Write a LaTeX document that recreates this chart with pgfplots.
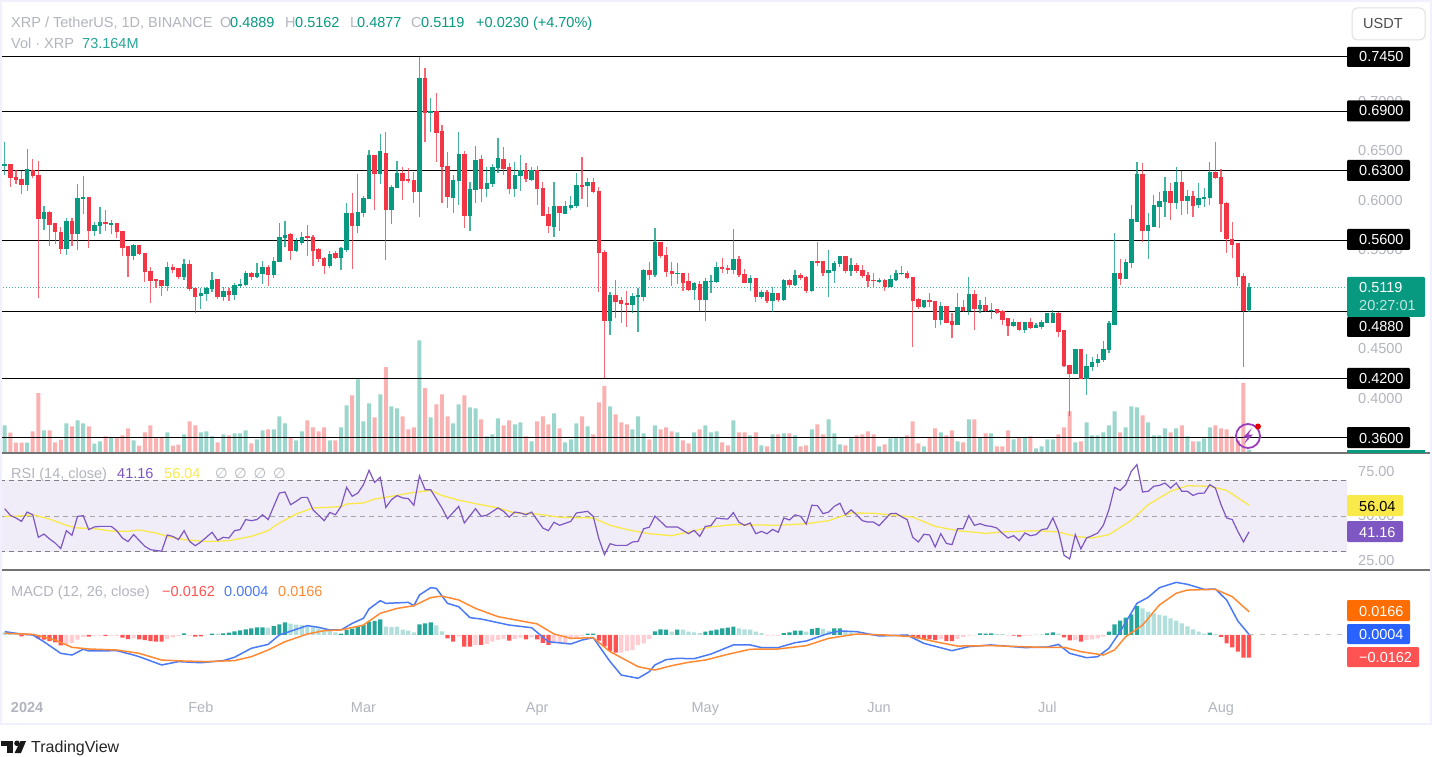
\documentclass[border=0pt]{standalone}
\usepackage{fontspec}
\usepackage{pgfplots}
\usepackage{pgfplotstable}
\pgfplotsset{compat=1.18}
\setmainfont{Liberation Sans}
\newfontfamily\dejavu{DejaVu Sans}

\definecolor{upc}{HTML}{089981}
\definecolor{dnc}{HTML}{F23645}
\definecolor{volup}{HTML}{9AD6CC}
\definecolor{voldn}{HTML}{FAB1B1}
\definecolor{greytx}{HTML}{B2B5BE}
\definecolor{band}{HTML}{F0ECF8}
\definecolor{rsic}{HTML}{7E57C2}
\definecolor{rsima}{HTML}{F9E94A}
\definecolor{macdb}{HTML}{4A7BF5}
\definecolor{macds}{HTML}{FF8A33}
\definecolor{labo}{HTML}{FF6D00}
\definecolor{labb}{HTML}{2962FF}
\definecolor{badge}{HTML}{9C3FBF}
\definecolor{hdt}{HTML}{26A69A}
\definecolor{hlt}{HTML}{B2DFDB}
\definecolor{hlr}{HTML}{FFCDD2}
\definecolor{hdr}{HTML}{FF5252}

% candles: i open high low close
\pgfplotstableread{
i o h l c
0 0.6352 0.6591 0.6258 0.6359
4 0.6157 0.6517 0.6093 0.6308
7 0.5817 0.5948 0.5702 0.5874
11 0.5510 0.5824 0.5450 0.5783
13 0.5662 0.6164 0.5500 0.6019
14 0.6016 0.6245 0.5867 0.6029
16 0.5692 0.5780 0.5642 0.5749
17 0.5746 0.5938 0.5662 0.5773
19 0.5756 0.5803 0.5662 0.5763
23 0.5440 0.5561 0.5399 0.5541
29 0.5133 0.5376 0.5089 0.5322
32 0.5231 0.5406 0.5197 0.5355
35 0.5032 0.5113 0.4904 0.5056
36 0.5052 0.5130 0.4988 0.5109
37 0.5103 0.5275 0.5079 0.5194
39 0.5029 0.5123 0.4988 0.5076
41 0.5049 0.5163 0.4995 0.5136
42 0.5136 0.5207 0.5113 0.5150
43 0.5143 0.5291 0.5136 0.5264
45 0.5231 0.5365 0.5217 0.5264
46 0.5258 0.5386 0.5153 0.5325
48 0.5244 0.5426 0.5214 0.5382
49 0.5379 0.5770 0.5379 0.5628
50 0.5621 0.5793 0.5534 0.5648
52 0.5490 0.5618 0.5477 0.5581
53 0.5571 0.5679 0.5548 0.5628
58 0.5335 0.5487 0.5318 0.5456
60 0.5419 0.5534 0.5298 0.5510
61 0.5500 0.5978 0.5483 0.5867
63 0.5746 0.6265 0.5675 0.5877
64 0.5871 0.6046 0.5837 0.6019
65 0.6012 0.6511 0.6012 0.6450
67 0.6268 0.6672 0.6164 0.6490
69 0.5908 0.6157 0.5763 0.6130
70 0.6123 0.6400 0.6123 0.6275
74 0.6083 0.7454 0.5837 0.7235
76 0.6881 0.7033 0.6692 0.6898
80 0.6028 0.6257 0.5877 0.6203
81 0.6197 0.6695 0.5954 0.6459
83 0.5846 0.6190 0.5695 0.6109
84 0.6106 0.6550 0.5978 0.6406
86 0.6112 0.6342 0.6038 0.6170
87 0.6166 0.6365 0.6140 0.6335
88 0.6328 0.6628 0.6274 0.6419
91 0.6112 0.6385 0.6038 0.6254
92 0.6247 0.6459 0.6096 0.6301
94 0.6207 0.6342 0.6200 0.6301
98 0.5732 0.6183 0.5634 0.5934
100 0.5867 0.5998 0.5860 0.5934
101 0.5927 0.6045 0.5904 0.5944
102 0.5940 0.6274 0.5921 0.6153
104 0.6143 0.6224 0.5937 0.6180
108 0.4786 0.5079 0.4641 0.5038
112 0.4947 0.5062 0.4866 0.5028
113 0.5028 0.5112 0.4674 0.5038
114 0.5028 0.5304 0.4988 0.5294
116 0.5244 0.5718 0.5223 0.5570
120 0.5254 0.5365 0.5156 0.5264
123 0.5099 0.5180 0.4994 0.5160
125 0.4994 0.5220 0.4786 0.5180
126 0.5173 0.5247 0.5068 0.5183
127 0.5173 0.5375 0.5170 0.5324
130 0.5297 0.5712 0.5257 0.5405
133 0.5166 0.5244 0.5089 0.5210
135 0.5021 0.5095 0.5004 0.5068
137 0.4984 0.5129 0.4876 0.5058
139 0.4994 0.5203 0.4988 0.5193
141 0.5146 0.5294 0.5136 0.5244
144 0.5085 0.5392 0.5079 0.5385
147 0.5267 0.5496 0.5028 0.5291
148 0.5284 0.5392 0.5169 0.5365
149 0.5358 0.5439 0.5331 0.5429
151 0.5284 0.5419 0.5240 0.5345
156 0.5173 0.5220 0.5163 0.5190
158 0.5129 0.5244 0.5122 0.5196
159 0.5193 0.5297 0.5186 0.5257
160 0.5254 0.5338 0.5247 0.5264
164 0.4927 0.4994 0.4917 0.4984
167 0.4796 0.4978 0.4738 0.4927
170 0.4745 0.5062 0.4742 0.4913
172 0.4880 0.5227 0.4843 0.5048
174 0.4903 0.4994 0.4860 0.4934
176 0.4880 0.4967 0.4799 0.4890
180 0.4732 0.4802 0.4725 0.4765
182 0.4691 0.4775 0.4658 0.4765
184 0.4715 0.4765 0.4708 0.4732
185 0.4718 0.4792 0.4701 0.4765
186 0.4765 0.4860 0.4765 0.4853
187 0.4765 0.4893 0.4765 0.4853
191 0.4243 0.4496 0.4243 0.4496
193 0.4193 0.4449 0.4034 0.4321
194 0.4317 0.4415 0.4274 0.4361
195 0.4354 0.4449 0.4314 0.4395
196 0.4385 0.4583 0.4371 0.4496
197 0.4489 0.4782 0.4462 0.4752
198 0.4745 0.5668 0.4745 0.5264
200 0.5207 0.5405 0.5203 0.5375
201 0.5368 0.5951 0.5314 0.5803
202 0.5786 0.6385 0.5786 0.6264
204 0.5695 0.5877 0.5409 0.5742
205 0.5732 0.6052 0.5729 0.5944
206 0.5937 0.6089 0.5718 0.5988
207 0.5981 0.6234 0.5830 0.6089
209 0.5971 0.6335 0.5917 0.6183
211 0.5991 0.6106 0.5863 0.6042
213 0.5951 0.6173 0.5921 0.6018
214 0.6018 0.6129 0.5931 0.6028
215 0.6022 0.6385 0.5954 0.6284
222 0.4889 0.5162 0.4877 0.5119
}\upcandles
\pgfplotstableread{
i o h l c
1 0.6359 0.6366 0.6133 0.6228
2 0.6234 0.6308 0.6167 0.6208
3 0.6211 0.6302 0.6063 0.6157
5 0.6302 0.6420 0.6224 0.6248
6 0.6255 0.6400 0.5012 0.5817
8 0.5874 0.5898 0.5544 0.5756
9 0.5763 0.5763 0.5561 0.5679
10 0.5679 0.5736 0.5460 0.5510
12 0.5783 0.5820 0.5541 0.5662
15 0.6029 0.6039 0.5520 0.5692
18 0.5773 0.5904 0.5692 0.5766
20 0.5763 0.5770 0.5625 0.5685
21 0.5689 0.5689 0.5440 0.5520
22 0.5530 0.5534 0.5224 0.5440
24 0.5541 0.5550 0.5450 0.5463
25 0.5466 0.5466 0.5173 0.5275
26 0.5285 0.5332 0.4968 0.5184
27 0.5197 0.5204 0.5113 0.5187
28 0.5190 0.5197 0.5035 0.5133
30 0.5325 0.5359 0.5271 0.5298
31 0.5312 0.5318 0.5204 0.5231
33 0.5355 0.5399 0.5089 0.5106
34 0.5109 0.5116 0.4860 0.5029
38 0.5197 0.5204 0.5005 0.5029
40 0.5079 0.5113 0.4988 0.5046
44 0.5261 0.5281 0.5197 0.5231
47 0.5325 0.5349 0.5140 0.5244
51 0.5652 0.5669 0.5399 0.5490
54 0.5632 0.5753 0.5443 0.5621
55 0.5628 0.5652 0.5339 0.5490
56 0.5500 0.5517 0.5379 0.5409
57 0.5416 0.5426 0.5254 0.5339
59 0.5460 0.5490 0.5409 0.5423
62 0.5867 0.6073 0.5305 0.5746
66 0.6450 0.6460 0.5904 0.6268
68 0.6477 0.6696 0.5399 0.5908
71 0.6275 0.6342 0.6009 0.6197
72 0.6208 0.6325 0.6174 0.6197
73 0.6204 0.6292 0.5972 0.6083
75 0.7235 0.7336 0.6595 0.6881
77 0.6901 0.7083 0.6393 0.6686
78 0.6692 0.6763 0.5972 0.6339
79 0.6346 0.6487 0.5921 0.6036
82 0.6459 0.6500 0.5725 0.5846
85 0.6409 0.6459 0.5988 0.6112
89 0.6416 0.6537 0.6257 0.6321
90 0.6328 0.6375 0.6062 0.6112
93 0.6301 0.6375 0.6190 0.6214
95 0.6301 0.6348 0.5958 0.6112
96 0.6119 0.6190 0.5843 0.5846
97 0.5853 0.5937 0.5675 0.5745
99 0.5937 0.5944 0.5691 0.5870
103 0.6153 0.6436 0.6018 0.6140
105 0.6183 0.6224 0.6072 0.6082
106 0.6092 0.6139 0.5072 0.5469
107 0.5476 0.5500 0.4203 0.4786
109 0.5038 0.5196 0.4809 0.4978
110 0.4984 0.5021 0.4765 0.4957
111 0.4960 0.5085 0.4725 0.4947
115 0.5294 0.5375 0.5196 0.5244
117 0.5570 0.5580 0.5415 0.5439
118 0.5446 0.5533 0.5230 0.5274
119 0.5281 0.5382 0.5136 0.5257
121 0.5260 0.5270 0.5089 0.5169
122 0.5180 0.5270 0.5089 0.5099
124 0.5149 0.5190 0.4883 0.4994
128 0.5324 0.5415 0.5264 0.5304
129 0.5311 0.5348 0.5257 0.5301
131 0.5405 0.5442 0.5230 0.5247
132 0.5254 0.5304 0.5163 0.5169
134 0.5210 0.5217 0.4974 0.5021
136 0.5068 0.5095 0.4960 0.4984
138 0.5058 0.5062 0.4974 0.4991
140 0.5193 0.5203 0.5129 0.5146
142 0.5244 0.5264 0.5196 0.5213
143 0.5223 0.5240 0.5068 0.5085
145 0.5385 0.5577 0.5338 0.5372
146 0.5378 0.5385 0.5237 0.5264
150 0.5429 0.5436 0.5264 0.5284
152 0.5345 0.5365 0.5264 0.5287
153 0.5294 0.5348 0.5213 0.5237
154 0.5244 0.5281 0.5129 0.5183
155 0.5193 0.5264 0.5122 0.5186
157 0.5190 0.5203 0.5089 0.5129
161 0.5260 0.5290 0.5203 0.5217
162 0.5223 0.5230 0.4516 0.4988
163 0.4994 0.5018 0.4903 0.4927
165 0.4984 0.5068 0.4927 0.4971
166 0.4974 0.4981 0.4711 0.4796
168 0.4924 0.4930 0.4759 0.4765
169 0.4772 0.4860 0.4610 0.4745
171 0.4913 0.4994 0.4873 0.4880
173 0.5048 0.5095 0.4691 0.4903
175 0.4934 0.5028 0.4873 0.4883
177 0.4893 0.4903 0.4853 0.4863
178 0.4880 0.4893 0.4742 0.4792
179 0.4802 0.4809 0.4631 0.4732
181 0.4765 0.4775 0.4684 0.4691
183 0.4762 0.4809 0.4701 0.4708
188 0.4856 0.4876 0.4617 0.4674
189 0.4681 0.4688 0.4314 0.4324
190 0.4334 0.4338 0.3826 0.4243
192 0.4496 0.4496 0.4193 0.4193
199 0.5260 0.5409 0.5143 0.5207
203 0.6264 0.6375 0.5584 0.5695
208 0.6089 0.6173 0.5803 0.5971
210 0.6183 0.6301 0.5857 0.5991
212 0.6042 0.6099 0.5833 0.5947
216 0.6284 0.6591 0.6214 0.6224
217 0.6234 0.6315 0.5681 0.5961
218 0.5968 0.5988 0.5466 0.5607
219 0.5607 0.5786 0.5415 0.5553
220 0.5560 0.5567 0.5139 0.5223
221 0.5230 0.5264 0.4320 0.4883
}\downcandles

\pgfplotsset{
  pane/.style={scale only axis, width=1347pt, xmin=-0.8385, xmax=239.48,
    anchor=south west, axis line style={draw=none}, tick style={draw=none},
    major tick length=0pt, xtick=\empty,
    tick label style={font=\fontsize{14.5}{15}\selectfont, text=greytx},
    yticklabel pos=right,
    yticklabel style={anchor=west, inner sep=0pt, xshift=11pt},
    /pgf/number format/assume math mode=true},
  wick/.style={forget plot, no markers, draw=none,
    error bars/.cd, y dir=plus, y explicit, error mark=none,
    error bar style={line width=1.2pt, draw=#1, opacity=0.75}},
  body/.style={forget plot, no markers, draw=none,
    error bars/.cd, y dir=plus, y explicit, error mark=none,
    error bar style={line width=4.4pt, draw=#1}},
}
\newcommand{\txt}[4]{\node[anchor=base west, inner sep=0pt, text=#1, font=\fontsize{14.5}{15}\selectfont] at (#2,#3) {#4};}
\newcommand{\lab}[7]{\fill[#1, rounded corners=1.2pt] (1347,#3) rectangle (#2,#4);
  \node[anchor=base west, inner sep=0pt, text=#5, font=\fontsize{14.5}{15}\selectfont] at (1359,#6) {#7};}

\begin{document}
\begin{tikzpicture}
\path[use as bounding box] (0,0) rectangle (1432pt,756pt);
\fill[white] (0,0) rectangle (1432pt,756pt);

% volume, same box as the price pane
\begin{axis}[pane, at={(0pt,303pt)}, height=445pt, ymin=0, ymax=9790, ytick=\empty]
\addplot[ybar, bar width=4pt, bar shift=0pt, fill=volup, draw=none] coordinates {
(0,608)(4,227)(7,498)(11,652)(13,718)(14,652)(16,205)(17,257)(19,337)(23,279)(29,454)(32,410)(35,454)(36,476)(37,367)(39,410)(41,432)(42,432)(43,498)(45,301)(46,498)(48,520)(49,806)(50,652)(52,279)(53,476)(58,279)(60,564)(61,1048)(63,1620)(64,696)(65,1092)(67,1290)(69,1026)(70,982)(74,2478)(76,784)(80,652)(81,1070)(83,1004)(84,982)(86,367)(87,410)(88,762)(91,630)(92,674)(94,257)(98,872)(100,235)(101,301)(102,652)(104,586)(108,1026)(112,520)(113,806)(114,432)(116,608)(120,454)(123,454)(125,608)(126,454)(127,476)(130,718)(133,388)(135,169)(137,410)(139,432)(141,388)(144,520)(147,740)(148,432)(149,191)(151,323)(156,147)(158,323)(159,345)(160,345)(164,147)(167,454)(170,257)(172,740)(174,345)(176,432)(180,301)(182,345)(184,103)(185,147)(186,301)(187,301)(191,235)(193,674)(194,388)(195,388)(196,454)(197,608)(198,916)(200,564)(201,1026)(202,1004)(204,674)(205,388)(206,388)(207,542)(209,542)(211,367)(213,257)(214,323)(215,564)(222,73.164)};
\addplot[ybar, bar width=4pt, bar shift=0pt, fill=voldn, draw=none] coordinates {
(1,447)(2,227)(3,227)(5,476)(6,1319)(8,498)(9,235)(10,293)(12,586)(15,586)(18,367)(20,337)(21,388)(22,542)(24,161)(25,454)(26,608)(27,345)(28,337)(30,161)(31,183)(33,696)(34,608)(38,235)(40,388)(44,213)(47,520)(51,337)(54,718)(55,564)(56,476)(57,564)(59,279)(62,1268)(66,784)(68,1891)(71,806)(72,520)(73,564)(75,1429)(77,1070)(78,1290)(79,806)(82,1268)(85,740)(89,608)(90,718)(93,367)(95,696)(96,806)(97,630)(99,542)(103,806)(105,410)(106,1114)(107,1473)(109,850)(110,674)(111,630)(115,301)(117,520)(118,564)(119,476)(121,279)(122,213)(124,520)(128,235)(129,169)(131,454)(132,454)(134,454)(136,147)(138,410)(140,432)(142,147)(143,169)(145,630)(146,410)(150,169)(152,388)(153,410)(154,476)(155,410)(157,191)(161,388)(162,696)(163,213)(165,345)(166,542)(168,388)(169,498)(171,235)(173,740)(175,432)(177,147)(178,147)(179,498)(181,345)(183,367)(188,410)(189,564)(190,916)(192,257)(199,454)(203,828)(208,454)(210,608)(212,257)(216,608)(217,542)(218,520)(219,367)(220,279)(221,1539)};
\end{axis}

% price pane
\begin{axis}[pane, at={(0pt,303pt)}, height=445pt, ymin=0.34484, ymax=0.79451,
  ytick={0.40,0.45,0.50,0.55,0.60,0.65,0.70},
  yticklabel style={/pgf/number format/fixed, /pgf/number format/fixed zerofill, /pgf/number format/precision=4}]
\addplot[upc!75, line width=1pt, dash pattern=on 1pt off 2pt, forget plot] coordinates {(-0.8385,0.5119)(239.48,0.5119)};
\addplot[black, line width=1pt, forget plot] coordinates {(-0.8385,0.745)(239.48,0.745)};
\addplot[black, line width=1pt, forget plot] coordinates {(-0.8385,0.69)(239.48,0.69)};
\addplot[black, line width=1pt, forget plot] coordinates {(-0.8385,0.63)(239.48,0.63)};
\addplot[black, line width=1pt, forget plot] coordinates {(-0.8385,0.56)(239.48,0.56)};
\addplot[black, line width=1pt, forget plot] coordinates {(-0.8385,0.488)(239.48,0.488)};
\addplot[black, line width=1pt, forget plot] coordinates {(-0.8385,0.42)(239.48,0.42)};
\addplot[black, line width=1pt, forget plot] coordinates {(-0.8385,0.36)(239.48,0.36)};
\addplot[wick=upc] table[x=i, y=l, y error expr=\thisrow{h}-\thisrow{l}] {\upcandles};
\addplot[wick=dnc] table[x=i, y=l, y error expr=\thisrow{h}-\thisrow{l}] {\downcandles};
\addplot[body=upc] table[x=i, y=o, y error expr=\thisrow{c}-\thisrow{o}+0.0006] {\upcandles};
\addplot[body=dnc] table[x=i, y=c, y error expr=\thisrow{o}-\thisrow{c}+0.0006] {\downcandles};
\end{axis}

% RSI pane
\begin{axis}[pane, at={(0pt,186pt)}, height=115pt, ymin=19.83, ymax=84.08,
  ytick={25,50,75},
  yticklabel style={/pgf/number format/fixed, /pgf/number format/fixed zerofill, /pgf/number format/precision=2}]
\addplot[fill=band, draw=none, forget plot] coordinates {(-0.8385,30)(239.48,30)(239.48,70)(-0.8385,70)} \closedcycle;
\addplot[gray, line width=1pt, dash pattern=on 5pt off 4pt, forget plot] coordinates {(-0.8385,70)(239.48,70)};
\addplot[gray!70, line width=0.8pt, dash pattern=on 5pt off 4pt, forget plot] coordinates {(-0.8385,50)(239.48,50)};
\addplot[gray, line width=1pt, dash pattern=on 5pt off 4pt, forget plot] coordinates {(-0.8385,30)(239.48,30)};
\addplot[rsima, line width=1.3pt] table {
0 49.8
2 49.8
5 50.7
8 48.3
11 44.8
13 43.3
16 42.9
19 41.6
22 41.4
24 42.2
27 40.5
29 38.6
32 36.8
36 35.7
40 36.2
44 38.6
47 41.8
49 46.1
52 51.1
55 54.5
60 55.2
61 56.7
64 57.3
66 59.5
69 61.0
73 63.2
76 64.3
78 61.5
81 58.8
84 56.9
88 54.5
91 51.7
95 51.1
99 49.3
105 48.9
108 44.8
111 42.4
115 40.1
119 39.0
122 41.1
126 43.9
130 45.2
138 44.8
143 45.7
147 47.4
151 51.7
155 51.5
158 50.7
162 49.4
166 44.2
170 41.8
175 40.3
178 41.1
184 41.8
188 41.1
191 38.6
194 37.7
197 39.6
201 47.6
204 56.3
208 63.8
211 66.9
215 66.6
218 64.3
222 56.04
};
\addplot[rsic, line width=1.2pt] table {
0 54.1
1 50.4
2 48.9
3 47.0
4 52.2
5 50.7
6 38.1
7 39.9
8 37.2
9 34.9
10 31.8
11 41.8
12 39.2
13 49.8
14 50.2
15 42.4
16 43.9
17 44.2
19 44.2
20 41.8
21 37.7
22 35.7
23 39.6
25 33.1
26 31.2
28 30.3
29 39.4
30 38.6
31 36.8
32 41.8
33 35.8
34 33.4
35 35.5
37 40.9
38 36.4
39 38.1
40 37.7
41 41.8
42 42.4
43 48.0
44 47.4
45 48.0
46 50.7
47 48.0
49 62.8
50 63.4
51 56.3
52 58.2
53 60.4
54 60.4
55 53.5
57 47.4
58 52.0
59 50.7
60 55.4
61 66.0
62 61.0
63 62.8
64 67.5
65 75.5
66 68.8
67 71.6
68 54.8
69 59.1
70 61.4
71 60.1
72 59.7
73 56.0
74 72.5
75 64.7
76 64.7
78 54.5
79 48.5
81 55.4
82 46.1
84 54.1
85 49.8
86 50.4
88 54.5
89 52.6
90 49.4
91 52.2
92 51.7
93 50.7
94 52.2
96 43.3
97 41.8
98 46.5
99 44.8
101 47.0
102 51.7
104 52.6
105 49.8
106 37.3
107 28.4
108 34.5
109 33.6
111 33.6
112 35.5
113 35.8
114 42.9
115 43.7
116 49.9
117 47.0
118 43.9
119 43.9
120 43.9
121 42.0
122 40.1
123 42.0
124 38.6
125 44.2
126 44.6
127 48.9
128 48.5
129 48.3
130 51.9
131 46.5
132 44.8
133 46.1
134 40.1
135 41.4
136 40.1
137 42.5
138 40.9
139 48.9
140 47.8
141 50.6
142 49.8
143 45.5
144 56.0
145 55.8
146 51.3
147 52.2
148 55.4
149 57.1
150 50.7
151 53.4
152 50.7
153 47.4
154 46.6
155 46.6
156 44.6
157 48.0
158 51.3
159 51.5
160 49.6
161 48.0
162 38.1
163 35.5
164 39.8
165 39.4
166 32.7
167 40.1
168 34.7
169 34.0
170 42.9
171 42.9
172 50.2
173 44.8
174 45.7
175 44.6
176 44.2
177 43.3
178 40.3
179 37.7
180 39.0
181 36.2
182 40.5
183 39.0
184 39.6
185 42.4
186 42.9
187 48.9
188 41.4
189 28.0
190 26.0
191 39.6
192 31.6
193 37.7
194 39.0
195 40.5
196 44.8
197 53.5
198 66.0
199 64.3
200 67.5
201 75.0
202 78.7
203 63.4
204 63.8
205 66.6
206 67.1
207 68.4
208 65.6
209 68.4
210 63.8
211 63.8
212 61.5
213 62.7
214 62.8
215 67.5
216 65.6
217 56.3
218 48.9
219 48.0
220 41.4
221 35.5
222 41.16
};
\end{axis}

% MACD pane
\begin{axis}[pane, at={(0pt,60pt)}, height=125pt, ymin=-0.04357, ymax=0.04571,
  ytick=\empty, xtick={4,35,64,95,125,156,186,217},
  xticklabels={\textbf{2024},Feb,Mar,Apr,May,Jun,Jul,Aug},
  xticklabel style={anchor=north, inner sep=0pt, yshift=-6pt}]
\addplot[gray!45, line width=1pt, dash pattern=on 5pt off 6pt, forget plot] coordinates {(222,0)(239.48,0)};
\addplot[ybar, bar width=4.2pt, bar shift=0pt, fill=hdt, draw=none] coordinates {
(32,.0012)(37,.0010)(39,.0012)(40,.0017)(41,.0026)(42,.0033)(43,.0040)(44,.0048)(45,.0055)(46,.0055)(48,.0064)(49,.0076)(50,.0090)(60,.0010)(61,.0036)(62,.0045)(63,.0060)(64,.0071)(65,.0095)(66,.0100)(67,.0112)(74,.0076)(75,.0083)(76,.0090)(104,.0010)(105,.0010)(116,.0026)(117,.0040)(118,.0038)(120,.0038)(125,.0024)(126,.0031)(127,.0038)(128,.0048)(129,.0052)(130,.0060)(139,.0014)(140,.0019)(141,.0031)(142,.0031)(144,.0043)(145,.0050)(148,.0048)(149,.0048)(174,.0012)(175,.0010)(176,.0012)(186,.0012)(187,.0019)(197,.0024)(198,.0076)(199,.0102)(200,.0124)(201,.0148)(202,.0207)(215,.0017)};
\addplot[ybar, bar width=4.2pt, bar shift=0pt, fill=hlt, draw=none] coordinates {
(0,.0019)(1,.0012)(2,.0007)(38,.0010)(47,.0052)(51,.0081)(52,.0074)(53,.0071)(54,.0067)(55,.0057)(56,.0048)(57,.0040)(58,.0029)(59,.0019)(68,.0060)(69,.0057)(70,.0060)(71,.0038)(72,.0031)(73,.0019)(77,.0069)(78,.0026)(119,.0024)(121,.0038)(122,.0024)(123,.0019)(124,.0014)(131,.0048)(132,.0040)(133,.0038)(134,.0024)(135,.0014)(143,.0024)(146,.0043)(147,.0029)(150,.0029)(151,.0019)(152,.0007)(153,.0005)(154,.0002)(177,.0007)(178,.0007)(184,.0002)(185,.0005)(188,.0010)(203,.0190)(204,.0167)(205,.0155)(206,.0143)(207,.0138)(208,.0119)(209,.0102)(210,.0083)(211,.0062)(212,.0040)(213,.0024)(214,.0010)(216,.0007)};
\addplot[ybar, bar width=4.2pt, bar shift=0pt, fill=hdr, draw=none] coordinates {
(3,-.0010)(6,-.0024)(7,-.0033)(8,-.0043)(9,-.0052)(10,-.0074)(15,-.0012)(18,-.0007)(21,-.0019)(22,-.0029)(24,-.0031)(25,-.0036)(26,-.0043)(27,-.0048)(28,-.0048)(34,-.0012)(35,-.0010)(79,-.0024)(80,-.0048)(82,-.0083)(83,-.0083)(85,-.0071)(90,-.0040)(93,-.0031)(95,-.0031)(96,-.0057)(97,-.0071)(106,-.0040)(107,-.0081)(108,-.0114)(109,-.0126)(161,-.0005)(162,-.0019)(163,-.0024)(164,-.0029)(165,-.0031)(166,-.0036)(168,-.0043)(169,-.0043)(180,-.0005)(181,-.0012)(189,-.0017)(190,-.0038)(192,-.0048)(217,-.0014)(218,-.0060)(219,-.0088)(220,-.0119)(221,-.0162)(222,-.0162)};
\addplot[ybar, bar width=4.2pt, bar shift=0pt, fill=hlr, draw=none] coordinates {
(4,-.0007)(5,-.0007)(11,-.0067)(12,-.0057)(13,-.0033)(14,-.0014)(16,-.0005)(17,-.0005)(19,-.0005)(20,-.0007)(23,-.0024)(29,-.0029)(30,-.0017)(31,-.0007)(33,-.0005)(36,-.0002)(81,-.0012)(84,-.0071)(86,-.0064)(87,-.0048)(88,-.0036)(89,-.0029)(91,-.0029)(92,-.0019)(94,-.0017)(98,-.0060)(99,-.0052)(100,-.0057)(101,-.0029)(102,-.0019)(103,-.0007)(110,-.0126)(111,-.0114)(112,-.0107)(113,-.0071)(114,-.0060)(115,-.0029)(136,-.0005)(137,-.0005)(138,-.0005)(155,-.0002)(156,-.0002)(157,-.0002)(158,-.0002)(160,-.0002)(167,-.0029)(170,-.0029)(171,-.0014)(172,-.0005)(173,-.0002)(179,-.0005)(182,-.0005)(183,-.0005)(191,-.0036)(193,-.0036)(194,-.0031)(195,-.0024)(196,-.0012)};
\addplot[macdb, line width=1.5pt] table {
0 .0024
2 .0012
5 0
7 -.0048
10 -.0131
12 -.0143
14 -.0102
15 -.0114
20 -.0112
23 -.0143
24 -.0155
28 -.0214
31 -.0190
35 -.0198
39 -.0183
41 -.0159
44 -.0095
47 -.0067
49 0
54 .0067
56 .0055
58 .0036
60 .0036
62 .0083
64 .0119
65 .0186
67 .0245
68 .0226
72 .0233
73 .0209
74 .0286
76 .0338
77 .0333
79 .0226
81 .0202
83 .0124
85 .0114
90 .0071
94 .0052
97 -.0048
101 -.0064
103 -.0036
105 -.0019
108 -.0190
110 -.0286
113 -.0309
115 -.0262
116 -.0214
118 -.0176
120 -.0167
123 -.0169
126 -.0136
130 -.0071
133 -.0071
135 -.0090
138 -.0090
141 -.0055
143 -.0043
147 .0012
149 .0029
152 .0024
156 -.0007
161 0
164 -.0060
169 -.0112
172 -.0083
176 -.0071
182 -.0090
186 -.0086
188 -.0067
190 -.0131
193 -.0162
195 -.0155
197 -.0095
199 .0024
202 .0226
204 .0269
206 .0338
209 .0376
211 .0362
214 .0326
216 .0328
218 .0250
220 .0100
222 .0004
};
\addplot[macds, line width=1.5pt] table {
0 .0012
5 .0005
9 -.0036
12 -.0088
15 -.0100
20 -.0107
24 -.0131
28 -.0179
32 -.0186
36 -.0190
41 -.0183
44 -.0155
47 -.0107
50 -.0048
54 .0007
57 .0031
60 .0036
64 .0071
67 .0155
70 .0190
73 .0209
76 .0267
78 .0278
81 .0250
84 .0190
88 .0131
95 .0079
98 .0007
101 -.0024
105 -.0019
108 -.0119
113 -.0226
115 -.0243
116 -.0250
119 -.0219
122 -.0195
125 -.0179
129 -.0138
133 -.0102
138 -.0100
143 -.0076
147 -.0024
152 .0007
157 0
162 -.0012
166 -.0048
170 -.0079
176 -.0076
185 -.0088
189 -.0088
192 -.0119
196 -.0143
198 -.0107
200 -.0012
203 .0071
206 .0214
209 .0298
211 .0321
216 .0326
219 .0274
222 .0166
};
\end{axis}

% overlay in image pixels, y running down
\begin{scope}[x=1pt, y=-1pt, shift={(0pt,756pt)}]
\draw[gray!90!black, line width=1.2pt] (0,453) -- (1430,453);
\draw[gray!90!black, line width=1.2pt] (0,570) -- (1430,570);
\draw[blue!6!white, line width=2pt] (1,1) -- (1,724) -- (1431,724) -- (1431,1) -- cycle;
\fill[upc] (1347,449.5) rectangle (1425,452.5);

% headers
\txt{greytx}{11}{27.5}{XRP / TetherUS, 1D, BINANCE}
\txt{greytx}{220}{27.5}{O}\txt{upc}{230}{27.5}{0.4889}
\txt{greytx}{285}{27.5}{H}\txt{upc}{295}{27.5}{0.5162}
\txt{greytx}{350}{27.5}{L}\txt{upc}{357}{27.5}{0.4877}
\txt{greytx}{411}{27.5}{C}\txt{upc}{421}{27.5}{0.5119}
\txt{upc}{476}{27.5}{+0.0230 (+4.70\%)}
\txt{greytx}{11}{49}{Vol · XRP}\txt{hdt}{82}{49}{73.164M}
\txt{greytx}{11}{478}{RSI (14, close)}\txt{rsic}{117}{478}{41.16}\txt{rsima}{164}{478}{56.04}
\txt{greytx}{215}{478}{\dejavu ∅}\txt{greytx}{234}{478}{\dejavu ∅}\txt{greytx}{253.5}{478}{\dejavu ∅}\txt{greytx}{273}{478}{\dejavu ∅}
\txt{greytx}{11}{596}{MACD (12, 26, close)}\txt{hdr}{162}{596}{−0.0162}\txt{macdb}{224}{596}{0.0004}\txt{macds}{278}{596}{0.0166}

% USDT button
\draw[black!12, line width=1pt, rounded corners=5pt, fill=white] (1352,8) rectangle (1425,40);
\node[anchor=base west, inner sep=0pt, text=black!70, font=\fontsize{14.5}{15}\selectfont] at (1363,29) {USDT};

% price labels
\lab{black}{1410}{47}{67}{white}{62}{0.7450}
\lab{black}{1410}{100.5}{121.5}{white}{116}{0.6900}
\lab{black}{1410}{160}{181}{white}{176}{0.6300}
\lab{black}{1410}{229}{250}{white}{245}{0.5600}
\lab{black}{1410}{317}{337}{white}{332}{0.4880}
\lab{black}{1410}{368}{389}{white}{384}{0.4200}
\lab{black}{1410}{427}{448}{white}{443}{0.3600}
\lab{upc}{1425}{277}{317}{white}{293}{0.5119}
\node[anchor=base west, inner sep=0pt, text=white!75!upc, font=\fontsize{14.5}{15}\selectfont] at (1359,311) {20:27:01};
\lab{rsima}{1403}{495}{516}{black}{511}{56.04}
\lab{rsic}{1403}{521}{542}{white}{537}{41.16}
\lab{labo}{1410}{600}{621}{white}{616}{0.0166}
\lab{labb}{1410}{624}{644}{white}{639}{0.0004}
\lab{hdr}{1419}{647}{667}{white}{662}{−0.0162}

% lightning badge
\draw[badge, line width=1.8pt] (1248,436) circle (12);
\fill[badge] (1252,428) -- (1243,437.5) -- (1247.5,437.5) -- (1244,444) -- (1253,434.5) -- (1248.5,434.5) -- cycle;
\fill[red!90!black] (1258,426.5) circle (3);

% TradingView mark
\fill[black!90] (1,741) rectangle (13,746);
\fill[black!90] (6.5,746) rectangle (13,753);
\fill[black!90] (17,743.3) circle (2.8);
\fill[black!90] (20.5,741) -- (26,741) -- (21,753) -- (14.5,753) -- cycle;
\node[anchor=base west, inner sep=0pt, text=black!85, font=\fontsize{16}{16}\selectfont] at (31,752.5) {TradingView};
\end{scope}
\end{tikzpicture}
\end{document}
